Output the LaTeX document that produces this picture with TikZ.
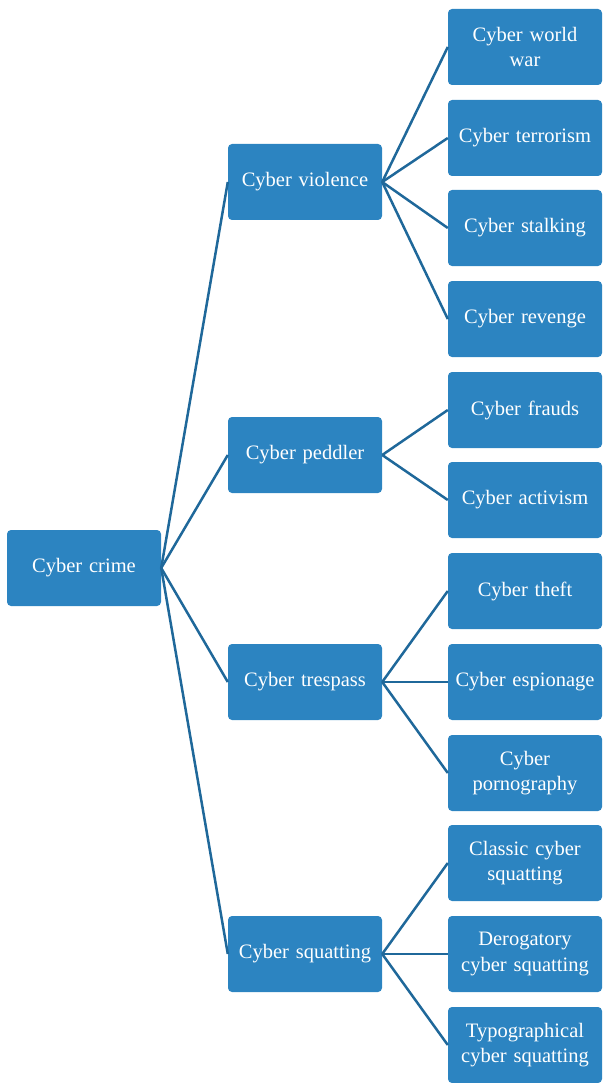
\documentclass[tikz,border=0pt]{standalone}
\usepackage{fontspec}
\setmainfont{Liberation Serif}
\definecolor{boxblue}{RGB}{44,132,193}
\definecolor{linkblue}{RGB}{31,104,154}

\begin{document}
\begin{tikzpicture}[x=1pt,y=1pt,yscale=-1,xscale=1,
    crimebox/.style={fill=boxblue, draw=none, rounded corners=4pt, minimum width=154pt, minimum height=76pt, text width=152pt, align=center, text=white, inner sep=0pt, font=\fontsize{20.5}{25.5}\selectfont},
    link/.style={draw=linkblue, line width=2.5pt}]
        \useasboundingbox (0,0) rectangle (602,1083);

        % Root
        \node [crimebox] (crime) at (84,568) {Cyber crime};

        % Level one
        \node [crimebox] (violence) at (305,182) {Cyber violence};
        \node [crimebox] (peddler) at (305,455) {Cyber peddler};
        \node [crimebox] (trespass) at (305,682) {Cyber trespass};
        \node [crimebox] (squatting) at (305,954) {Cyber squatting};

        % Level two
        \node [crimebox] (worldwar) at (525,47) {Cyber world\\war};
        \node [crimebox] (terrorism) at (525,138) {Cyber terrorism};
        \node [crimebox] (stalking) at (525,228) {Cyber stalking};
        \node [crimebox] (revenge) at (525,319) {Cyber revenge};
        \node [crimebox] (frauds) at (525,410) {Cyber frauds};
        \node [crimebox] (activism) at (525,500) {Cyber activism};
        \node [crimebox] (theft) at (525,591) {Cyber theft};
        \node [crimebox] (espionage) at (525,682) {Cyber espionage};
        \node [crimebox] (porn) at (525,773) {Cyber\\pornography};
        \node [crimebox] (classic) at (525,863) {Classic cyber\\squatting};
        \node [crimebox] (derogatory) at (525,954) {Derogatory\\cyber squatting};
        \node [crimebox] (typo) at (525,1045) {Typographical\\cyber squatting};

        % Root links
        \draw [link] (crime.east) -- (violence.west) ;
        \draw [link] (crime.east) -- (peddler.west) ;
        \draw [link] (crime.east) -- (trespass.west) ;
        \draw [link] (crime.east) -- (squatting.west) ;

        % Cyber violence links
        \draw [link] (violence.east) -- (worldwar.west) ;
        \draw [link] (violence.east) -- (terrorism.west) ;
        \draw [link] (violence.east) -- (stalking.west) ;
        \draw [link] (violence.east) -- (revenge.west) ;

        % Cyber peddler links
        \draw [link] (peddler.east) -- (frauds.west) ;
        \draw [link] (peddler.east) -- (activism.west) ;

        % Cyber trespass links
        \draw [link] (trespass.east) -- (theft.west) ;
        \draw [link] (trespass.east) -- (espionage.west) ;
        \draw [link] (trespass.east) -- (porn.west) ;

        % Cyber squatting links
        \draw [link] (squatting.east) -- (classic.west) ;
        \draw [link] (squatting.east) -- (derogatory.west) ;
        \draw [link] (squatting.east) -- (typo.west) ;

\end{tikzpicture}
\end{document}
